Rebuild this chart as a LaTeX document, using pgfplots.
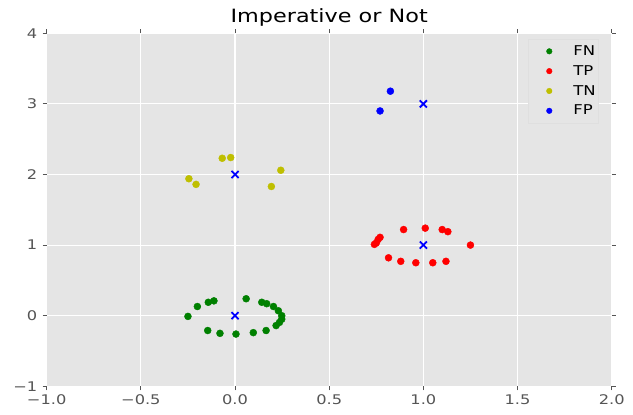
\documentclass[border=0pt]{standalone}
\usepackage{fontspec}
\setmainfont{DejaVu Sans}[FakeStretch=1.22]
\usepackage{pgfplots}
\pgfplotsset{compat=1.18}
\definecolor{bg}{HTML}{E5E5E5}
\definecolor{tickc}{HTML}{555555}
\definecolor{mgreen}{rgb}{0,0.5,0}
\definecolor{myellow}{rgb}{0.75,0.75,0}
\begin{document}
\begin{tikzpicture}
\begin{axis}[
  scale only axis,
  width=565bp, height=353bp,
  xmin=-1, xmax=2, ymin=-1, ymax=4,
  axis background/.style={fill=bg},
  axis line style={draw=none},
  grid=major,
  major grid style={white, line width=1.1bp},
  xtick={-1,-0.5,0,0.5,1,1.5,2},
  xticklabels={−1.0,−0.5,0.0,0.5,1.0,1.5,2.0},
  ytick={-1,0,1,2,3,4},
  yticklabels={−1,0,1,2,3,4},
  tick align=outside,
  major tick length=4bp,
  tick style={tickc, line width=0.8bp},
  ticklabel style={font=\fontsize{13.3bp}{15bp}\selectfont, text=tickc},
  xticklabel style={yshift=-1bp},
  yticklabel style={xshift=-2bp},
  title={Imperative or Not},
  title style={font=\fontsize{18.3bp}{21bp}\selectfont, yshift=-3bp},
  legend style={at={(0.852,0.984)}, anchor=north west, fill=bg, draw=white!75!gray,
    font=\fontsize{13.5bp}{15bp}\selectfont, row sep=5.5bp, inner xsep=0bp, inner ysep=5bp,
    nodes={inner xsep=3bp, inner ysep=1.5bp}},
  legend cell align=left,
  legend image code/.code={\path[draw=none] (0,0) (42bp,0); \draw[#1, mark size=2.8bp] plot coordinates {(21bp,0bp)};},
]
\addplot[only marks, mark=*, mark size=3.5bp, mgreen] coordinates {
(-0.25,-0.01) (-0.20,0.13) (-0.142,0.19) (-0.112,0.21) (0.059,0.24) (0.142,0.19)
(0.168,0.17) (0.204,0.13) (0.23,0.07) (0.248,0.0) (0.248,-0.05) (0.236,-0.095)
(0.218,-0.14) (0.165,-0.21) (0.097,-0.24) (0.005,-0.26) (-0.08,-0.25) (-0.145,-0.21)
};
\addlegendentry{FN}
\addplot[only marks, mark=*, mark size=3.5bp, red] coordinates {
(0.74,1.01) (0.75,1.03) (0.76,1.08) (0.77,1.11) (0.895,1.22) (1.01,1.24)
(1.10,1.22) (1.13,1.19) (1.25,1.0) (0.815,0.82) (0.88,0.77) (0.96,0.75)
(1.05,0.75) (1.12,0.77)
};
\addlegendentry{TP}
\addplot[only marks, mark=*, mark size=3.5bp, myellow] coordinates {
(-0.245,1.94) (-0.207,1.86) (-0.068,2.23) (-0.023,2.24) (0.243,2.06) (0.193,1.83)
};
\addlegendentry{TN}
\addplot[only marks, mark=*, mark size=3.5bp, blue] coordinates {
(0.825,3.18) (0.77,2.90)
};
\addlegendentry{FP}
\addplot[only marks, mark=x, mark size=5bp, blue, line width=1.8bp, forget plot] coordinates {
(0,0) (1,1) (0,2) (1,3)
};
\end{axis}
\pgfresetboundingbox
\path[use as bounding box] ([shift={(-46.7bp,-28bp)}]current axis.south west) rectangle ([shift={(21.3bp,33.3bp)}]current axis.north east);
\end{tikzpicture}
\end{document}
